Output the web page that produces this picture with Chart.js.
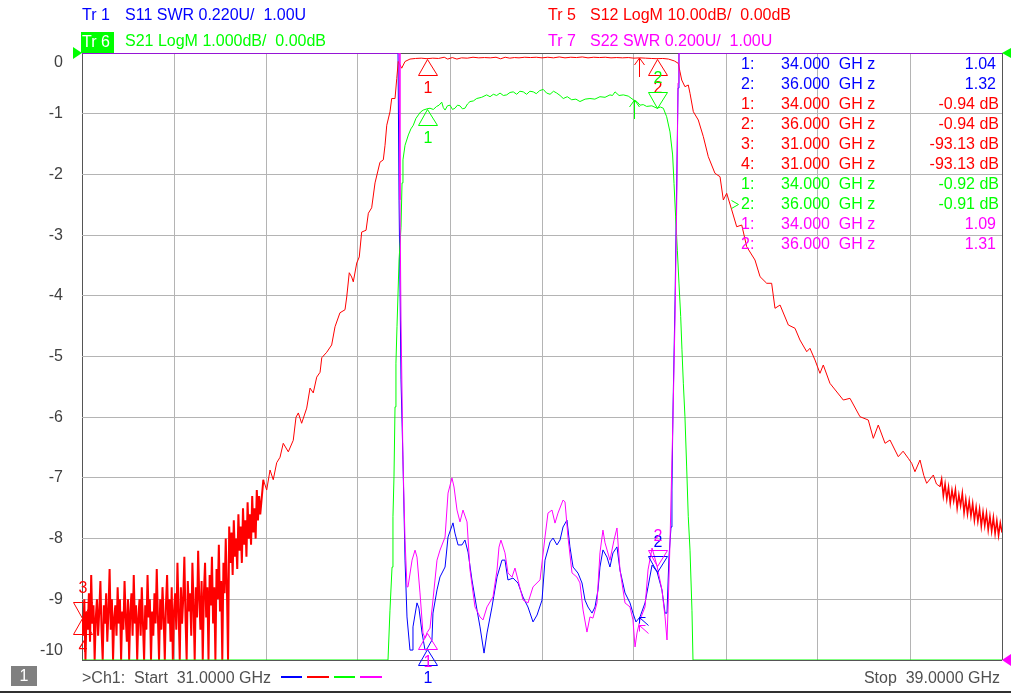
<!DOCTYPE html>
<html><head><meta charset="utf-8">
<script src="https://cdn.jsdelivr.net/npm/chart.js@4.4.1/dist/chart.umd.min.js"></script>
<style>
html,body{margin:0;padding:0;background:#fff;overflow:hidden}
#wrap{position:relative;width:1011px;height:693px;font-family:"Liberation Sans",Arial,Helvetica,sans-serif;font-size:16px;background:#fff}
#c{position:absolute;left:0;top:0}
.t{position:absolute;white-space:pre;line-height:20px;height:20px}
.r{text-align:right}
.seg{position:absolute;height:2px}
</style></head><body>
<div id="wrap">
<canvas id="c" width="1011" height="693" style="width:1011px;height:693px"></canvas>
<div class="t" style="left:82px;top:5px;color:#0000ff">Tr 1</div>
<div class="t" style="left:125px;top:5px;color:#0000ff">S11 SWR 0.220U/  1.00U</div>
<div style="position:absolute;left:81px;top:32px;width:33px;height:21px;background:#00ff00"></div>
<div class="t" style="left:82px;top:32px;color:#ffffff">Tr 6</div>
<div class="t" style="left:125px;top:31px;color:#00ff00">S21 LogM 1.000dB/  0.00dB</div>
<div class="t" style="left:548px;top:5px;color:#ff0000">Tr 5</div>
<div class="t" style="left:590px;top:5px;color:#ff0000">S12 LogM 10.00dB/  0.00dB</div>
<div class="t" style="left:548px;top:31px;color:#ff00ff">Tr 7</div>
<div class="t" style="left:590px;top:31px;color:#ff00ff">S22 SWR 0.200U/  1.00U</div>
<div id="table"></div>
<div style="position:absolute;left:11px;top:666px;width:26px;height:20px;background:#808080"></div>
<div class="t" style="left:11px;top:666px;width:26px;text-align:center;color:#ffffff">1</div>
<div class="t" style="left:82px;top:668px;color:#505050">&gt;Ch1:  Start  31.0000 GHz</div>
<div class="seg" style="left:281px;top:676px;width:21px;background:#0000ff"></div>
<div class="seg" style="left:307px;top:676px;width:22px;background:#ff0000"></div>
<div class="seg" style="left:334px;top:676px;width:21px;background:#00ff00"></div>
<div class="seg" style="left:360px;top:676px;width:22px;background:#ff00ff"></div>
<div class="t r" style="right:11px;top:668px;color:#505050">Stop  39.0000 GHz</div>
<div style="position:absolute;left:0;top:691px;width:1011px;height:2px;background:#303030"></div>
</div>
<script>
// ---------------- DATA ----------------
// Sweep: 31 - 39 GHz
const freqStart = 31.0;
const freqStop = 39.0;

// Tr1 S11 SWR trace [GHz, SWR]
const s11Trace = [[31.0,3.2],[33.748,3.2],[33.757,2.667],[33.774,2.015],[33.791,1.725],[33.809,1.362],[33.826,1.156],[33.852,1.036],[33.870,1.036],[33.878,1.120],[33.913,1.207],[33.930,1.188],[33.957,1.098],[33.983,1.036],[34.000,1.040],[34.009,1.047],[34.043,1.072],[34.052,1.170],[34.087,1.254],[34.113,1.301],[34.157,1.337],[34.183,1.446],[34.226,1.497],[34.243,1.460],[34.270,1.417],[34.304,1.417],[34.330,1.435],[34.357,1.391],[34.391,1.290],[34.435,1.181],[34.461,1.120],[34.496,1.025],[34.522,1.098],[34.565,1.192],[34.609,1.301],[34.652,1.362],[34.678,1.362],[34.704,1.290],[34.748,1.297],[34.791,1.279],[34.835,1.228],[34.878,1.192],[34.922,1.138],[34.957,1.163],[35.000,1.217],[35.026,1.362],[35.070,1.428],[35.096,1.442],[35.130,1.417],[35.157,1.435],[35.183,1.482],[35.217,1.507],[35.243,1.410],[35.270,1.337],[35.313,1.315],[35.348,1.279],[35.374,1.217],[35.400,1.192],[35.435,1.170],[35.461,1.192],[35.487,1.254],[35.504,1.337],[35.530,1.399],[35.565,1.373],[35.591,1.337],[35.617,1.388],[35.652,1.410],[35.678,1.326],[35.722,1.243],[35.765,1.207],[35.791,1.170],[35.817,1.138],[35.852,1.156],[35.896,1.207],[35.922,1.265],[35.957,1.344],[36.000,1.320],[36.043,1.254],[36.070,1.170],[36.087,1.170],[36.104,1.373],[36.122,1.482],[36.130,1.616],[36.139,1.906],[36.157,2.305],[36.183,3.073],[36.191,3.2],[39.0,3.2]];

// Tr5 S12 LogM trace [GHz, dB]
const s12Trace = [[31.00,-93.1],[31.01,-96],[31.02,-90],[31.03,-100],[31.04,-92],[31.05,-95],[31.06,-89],[31.07,-97],[31.08,-86],[31.09,-94],[31.10,-91],[31.11,-100],[31.12,-93],[31.13,-90],[31.14,-96],[31.15,-92],[31.16,-87],[31.17,-95],[31.18,-100],[31.19,-91],[31.20,-94],[31.21,-89],[31.22,-97],[31.23,-92],[31.24,-85],[31.25,-95],[31.26,-90],[31.27,-100],[31.28,-93],[31.29,-91],[31.30,-96],[31.31,-88],[31.32,-94],[31.33,-90],[31.34,-100],[31.35,-92],[31.36,-95],[31.37,-87],[31.38,-93],[31.39,-97],[31.40,-90],[31.41,-100],[31.42,-92],[31.43,-89],[31.44,-96],[31.45,-86],[31.46,-94],[31.47,-91],[31.48,-100],[31.49,-93],[31.50,-90],[31.51,-96],[31.52,-88],[31.53,-94],[31.54,-100],[31.55,-91],[31.56,-95],[31.57,-86],[31.58,-93],[31.59,-90],[31.60,-100],[31.61,-92],[31.62,-96],[31.63,-89],[31.64,-94],[31.65,-85],[31.66,-93],[31.67,-100],[31.68,-90],[31.69,-95],[31.70,-88],[31.71,-93],[31.72,-100],[31.73,-91],[31.74,-86],[31.75,-94],[31.76,-90],[31.77,-97],[31.78,-88],[31.79,-100],[31.80,-92],
[31.81,-89],[31.82,-95],[31.83,-84],[31.84,-92],[31.85,-100],[31.86,-88],[31.87,-94],[31.88,-90],[31.89,-83],[31.90,-93],[31.91,-100],[31.92,-87],[31.93,-92],[31.94,-89],[31.95,-96],[31.96,-84],[31.97,-91],[31.98,-100],[31.99,-88],[32.00,-93],[32.01,-82],[32.02,-90],[32.03,-95],[32.04,-87],[32.05,-100],[32.06,-89],[32.07,-84],[32.08,-93],[32.09,-88],[32.10,-100],[32.11,-86],[32.12,-91],[32.13,-83],[32.14,-94],[32.15,-88],[32.16,-100],[32.17,-85],[32.18,-90],[32.19,-81],[32.20,-92],[32.21,-87],[32.22,-100],[32.23,-84],[32.24,-89],[32.25,-80],[32.26,-88],[32.27,-100],[32.28,-78],
[32.29,-84],[32.30,-79],[32.31,-86],[32.32,-77],[32.33,-83],[32.34,-80],[32.35,-85],[32.36,-76],[32.37,-82],[32.38,-78],[32.39,-84],[32.40,-75],[32.41,-81],[32.42,-77],[32.43,-83],[32.44,-74],[32.45,-80],[32.46,-76],[32.47,-81],[32.48,-73],[32.49,-79],[32.50,-75],[32.51,-80],[32.52,-72],[32.53,-77],[32.54,-73],[32.55,-76],
[32.577,-70.3],[32.606,-72.0],[32.635,-68.7],[32.663,-70.3],[32.693,-67.5],[32.722,-66.6],[32.750,-64.3],[32.794,-65.7],[32.837,-63.8],[32.861,-60.0],[32.881,-59.3],[32.910,-61.0],[32.954,-58.5],[32.983,-55.2],[33.011,-56.0],[33.041,-53.4],[33.070,-52.6],[33.085,-50.2],[33.128,-49.3],[33.171,-48.1],[33.200,-45.1],[33.243,-42.8],[33.287,-42.3],[33.302,-40.2],[33.324,-36.2],[33.345,-36.9],[33.359,-37.7],[33.389,-34.6],[33.411,-33.6],[33.432,-29.5],[33.470,-29.2],[33.490,-26.4],[33.519,-25.5],[33.548,-21.4],[33.591,-18.0],[33.620,-17.6],[33.635,-15.2],[33.650,-11.9],[33.678,-9.7],[33.693,-7.5],[33.722,-7.5],[33.737,-4.2],[33.750,-1.4],[33.780,-2.5],[33.809,-1.4],[33.852,-1.0],
[33.90,-0.90],[33.95,-0.85],[34.00,-0.94],[34.05,-0.85],[34.10,-0.90],[34.15,-0.70],[34.18,-1.00],[34.22,-0.75],[34.26,-1.00],[34.30,-0.80],[34.35,-0.85],[34.40,-0.70],[34.45,-0.80],[34.50,-0.75],[34.55,-0.80],[34.60,-0.70],[34.64,-0.95],[34.68,-0.70],[34.72,-0.85],[34.76,-0.75],[34.80,-0.80],[34.85,-0.70],[34.90,-0.75],[34.95,-0.70],[35.00,-0.80],[35.05,-0.70],[35.10,-0.80],[35.15,-0.65],[35.20,-0.80],[35.25,-0.70],[35.30,-0.75],[35.35,-0.65],[35.40,-0.80],[35.45,-0.70],[35.50,-0.75],[35.55,-0.70],[35.60,-0.80],[35.65,-0.75],[35.70,-0.80],[35.75,-0.75],[35.80,-0.85],[35.85,-0.80],[35.90,-0.85],[35.95,-0.90],[36.00,-0.94],[36.05,-0.90],[36.10,-1.00],
[36.150,-1.3],[36.185,-1.7],[36.200,-3.1],[36.215,-4.45],[36.243,-5.55],[36.272,-5.27],[36.287,-6.64],[36.316,-9.67],[36.359,-11.04],[36.403,-13.79],[36.446,-17.08],[36.504,-19.82],[36.548,-20.38],[36.577,-24.22],[36.606,-23.11],[36.650,-25.86],[36.693,-28.62],[36.737,-28.34],[36.780,-31.91],[36.852,-34.10],[36.896,-36.85],[36.954,-37.94],[36.997,-37.94],[37.026,-42.06],[37.070,-41.52],[37.142,-44.81],[37.200,-45.35],[37.243,-47.28],[37.302,-49.21],[37.330,-48.65],[37.374,-50.58],[37.417,-52.77],[37.446,-51.40],[37.504,-54.42],[37.620,-57.17],[37.678,-56.89],[37.765,-59.92],[37.837,-60.46],[37.881,-63.48],[37.924,-61.29],[37.983,-64.30],[38.026,-63.76],[38.098,-66.51],[38.140,-65.6],[38.185,-66.77],[38.215,-67.6],[38.243,-68.98],[38.287,-67.05],[38.320,-69.6],[38.345,-70.89],[38.403,-69.52],[38.430,-71.0],[38.461,-71.45],
[38.475,-70.2],[38.490,-73.0],[38.505,-71.0],[38.520,-73.5],[38.535,-71.5],[38.550,-74.2],[38.565,-72.0],[38.580,-73.8],[38.595,-71.9],[38.610,-75.0],[38.625,-72.8],[38.640,-74.6],[38.655,-72.5],[38.670,-75.8],[38.685,-73.5],[38.700,-76.0],[38.715,-73.8],[38.730,-76.3],[38.745,-74.2],[38.760,-77.0],[38.775,-74.8],[38.790,-77.2],[38.805,-75.1],[38.820,-78.0],[38.835,-75.6],[38.850,-77.9],[38.865,-75.8],[38.880,-78.6],[38.895,-76.3],[38.910,-78.8],[38.925,-76.5],[38.940,-79.2],[38.955,-77.0],[38.970,-79.5],[38.985,-77.4],[39.000,-79.0]];

// Tr6 S21 LogM trace [GHz, dB]
const s21Trace = [[31.0,-10],[33.661,-10],[33.678,-9.18],[33.696,-8.47],[33.704,-7.64],[33.713,-6.98],[33.722,-5.83],[33.730,-5.11],[33.739,-4.51],[33.757,-3.41],[33.774,-2.87],[33.783,-2.14],[33.791,-1.76],[33.809,-1.52],[33.838,-1.35],[33.860,-1.25],[33.881,-1.19],[33.903,-1.08],[33.925,-1.02],[33.945,-0.97],[33.968,-0.94],[34.000,-0.92],[34.026,-0.91],[34.055,-0.93],[34.084,-0.88],[34.105,-0.86],[34.128,-0.81],[34.142,-0.90],[34.157,-0.94],[34.178,-0.87],[34.200,-0.86],[34.222,-0.93],[34.243,-0.91],[34.265,-0.86],[34.287,-0.87],[34.308,-0.92],[34.330,-0.91],[34.352,-0.84],[34.374,-0.80],[34.403,-0.79],[34.432,-0.75],[34.475,-0.73],[34.519,-0.69],[34.548,-0.72],[34.577,-0.68],[34.606,-0.70],[34.635,-0.66],[34.664,-0.70],[34.693,-0.69],[34.722,-0.65],[34.750,-0.64],[34.780,-0.68],[34.808,-0.63],[34.837,-0.64],[34.866,-0.68],[34.895,-0.63],[34.924,-0.64],[34.950,-0.67],[34.980,-0.62],[35.011,-0.60],[35.040,-0.66],[35.070,-0.68],[35.100,-0.63],[35.128,-0.66],[35.157,-0.70],[35.185,-0.75],[35.220,-0.72],[35.258,-0.77],[35.295,-0.76],[35.330,-0.80],[35.375,-0.76],[35.417,-0.75],[35.460,-0.76],[35.504,-0.72],[35.548,-0.73],[35.591,-0.69],[35.613,-0.70],[35.635,-0.64],[35.670,-0.70],[35.707,-0.69],[35.750,-0.71],[35.794,-0.77],[35.825,-0.80],[35.852,-0.86],[35.880,-0.85],[35.910,-0.88],[35.955,-0.87],[36.000,-0.91],[36.030,-0.89],[36.055,-0.91],[36.084,-1.05],[36.113,-1.30],[36.136,-1.68],[36.148,-2.15],[36.162,-2.70],[36.177,-3.25],[36.191,-3.79],[36.206,-4.34],[36.217,-4.89],[36.229,-5.44],[36.243,-5.99],[36.258,-6.82],[36.272,-7.64],[36.287,-8.19],[36.304,-9.18],[36.313,-10],[39.0,-10]];

// Tr7 S22 SWR trace [GHz, SWR]
const s22Trace = [[31.0,3.0],[33.757,3.0],[33.765,2.516],[33.774,2.120],[33.791,1.659],[33.809,1.395],[33.826,1.241],[33.835,1.241],[33.870,1.329],[33.896,1.362],[33.913,1.339],[33.939,1.221],[33.965,1.089],[33.983,1.072],[34.000,1.090],[34.026,1.105],[34.052,1.198],[34.087,1.329],[34.113,1.362],[34.157,1.405],[34.183,1.550],[34.217,1.600],[34.235,1.570],[34.261,1.494],[34.287,1.455],[34.313,1.494],[34.348,1.455],[34.374,1.297],[34.417,1.175],[34.461,1.142],[34.487,1.132],[34.522,1.175],[34.574,1.208],[34.609,1.297],[34.626,1.372],[34.643,1.395],[34.678,1.353],[34.704,1.287],[34.739,1.273],[34.765,1.303],[34.791,1.264],[34.835,1.198],[34.878,1.188],[34.922,1.241],[34.983,1.264],[35.026,1.405],[35.052,1.484],[35.087,1.494],[35.113,1.451],[35.139,1.484],[35.183,1.527],[35.200,1.521],[35.226,1.405],[35.261,1.287],[35.304,1.273],[35.330,1.254],[35.357,1.165],[35.391,1.092],[35.417,1.142],[35.443,1.138],[35.478,1.188],[35.504,1.353],[35.530,1.428],[35.548,1.386],[35.591,1.329],[35.626,1.395],[35.652,1.435],[35.678,1.297],[35.722,1.188],[35.765,1.175],[35.791,1.132],[35.809,1.043],[35.826,1.089],[35.852,1.132],[35.896,1.175],[35.922,1.297],[35.957,1.369],[36.000,1.310],[36.043,1.231],[36.070,1.142],[36.087,1.066],[36.096,1.165],[36.113,1.386],[36.130,1.659],[36.139,1.801],[36.157,2.130],[36.174,2.572],[36.183,2.901],[36.191,3.0],[39.0,3.0]];

// Marker readouts
const markerFreqs = [34.0, 36.0];
const s11MarkerSwr = [1.04, 1.32];
const s12MarkerFreqs = [34.0, 36.0, 31.0, 31.0];
const s12MarkerDb = [-0.94, -0.94, -93.13, -93.13];
const s21MarkerDb = [-0.92, -0.91];
const s22MarkerSwr = [1.09, 1.31];

// search arrows [GHz, value]
const s12Arrow = [35.843, -0.85];
const s21Arrow = [35.800, -0.77];
const s11Arrow = [35.840, 1.156];
const s22Arrow = [35.840, 1.115];

// S21 (active trace) axis ticks
const yTicks = [0, -1, -2, -3, -4, -5, -6, -7, -8, -9, -10];

// ---------------- STYLE ----------------
const FONT = '"Liberation Sans", Arial, Helvetica, sans-serif';
const BLUE = '#0000ff', RED = '#ff0000', GREEN = '#00ff00', MAG = '#ff00ff';
const GRID = '#b4b4b4', FRAME = '#555555';

// ---------------- TABLE ----------------
(function(){
  const rows = [];
  s11MarkerSwr.forEach((v,i)=>rows.push({c:BLUE,n:i+1,f:markerFreqs[i],t:v.toFixed(2),db:false}));
  s12MarkerDb.forEach((v,i)=>rows.push({c:RED,n:i+1,f:s12MarkerFreqs[i],t:v.toFixed(2)+' dB',db:true}));
  s21MarkerDb.forEach((v,i)=>rows.push({c:GREEN,n:i+1,f:markerFreqs[i],t:v.toFixed(2)+' dB',db:true}));
  s22MarkerSwr.forEach((v,i)=>rows.push({c:MAG,n:i+1,f:markerFreqs[i],t:v.toFixed(2),db:false}));
  const tb = document.getElementById('table');
  let h = '';
  rows.forEach((r,i)=>{
    const top = 54 + 20*i;
    h += '<div class="t" style="left:741px;top:'+top+'px;color:'+r.c+'">'+r.n+':</div>';
    h += '<div class="t" style="left:781px;top:'+top+'px;color:'+r.c+'">'+r.f.toFixed(3)+'  GH z</div>';
    h += '<div class="t r" style="right:'+(r.db?12:15)+'px;top:'+top+'px;color:'+r.c+'">'+r.t+'</div>';
  });
  tb.innerHTML = h;
})();

// ---------------- CHART ----------------
const toXY = arr => arr.map(p => ({x:p[0], y:p[1]}));
const isEdge = (v, a, b) => Math.abs(v-a) < 1e-6 || Math.abs(v-b) < 1e-6;

const vnaPlugin = {
  id: 'vnaDecor',
  afterDatasetsDraw(chart){
    const {ctx, chartArea:a, scales:s} = chart;
    const X = f => s.x.getPixelForValue(f);
    ctx.save();
    ctx.lineWidth = 1;
    ctx.font = '16px ' + FONT;
    ctx.textAlign = 'center';
    ctx.textBaseline = 'middle';
    function tri(x, y, up, color, label){
      x = Math.round(x); y = Math.round(y);
      const b = up ? y + 16 : y - 16;
      ctx.strokeStyle = color;
      ctx.beginPath();
      ctx.moveTo(x + 0.5, y + 0.5);
      ctx.lineTo(x - 9 + 0.5, b + 0.5);
      ctx.lineTo(x + 10 + 0.5, b + 0.5);
      ctx.closePath();
      ctx.stroke();
      ctx.fillStyle = color;
      ctx.fillText(label, x + 1, up ? y + 30 : y - 29);
    }
    function arrowUp(x, y, color){
      x = Math.round(x) + 0.5; y = Math.round(y);
      ctx.strokeStyle = color;
      ctx.beginPath();
      ctx.moveTo(x, y); ctx.lineTo(x, y + 19);
      ctx.moveTo(x - 5, y + 7); ctx.lineTo(x, y); ctx.lineTo(x + 5, y + 7);
      ctx.stroke();
    }
    function arrowNW(x, y, color){
      x = Math.round(x) + 0.5; y = Math.round(y) + 0.5;
      ctx.strokeStyle = color;
      ctx.beginPath();
      ctx.moveTo(x, y); ctx.lineTo(x + 9, y + 8);
      ctx.moveTo(x, y + 6); ctx.lineTo(x, y); ctx.lineTo(x + 6, y);
      ctx.stroke();
    }
    // search arrows
    arrowNW(X(s11Arrow[0]), s.yS11.getPixelForValue(s11Arrow[1]), BLUE);
    arrowUp(X(s12Arrow[0]), s.yS12.getPixelForValue(s12Arrow[1]), RED);
    arrowUp(X(s21Arrow[0]), s.y.getPixelForValue(s21Arrow[1]), GREEN);
    arrowNW(X(s22Arrow[0]), s.yS22.getPixelForValue(s22Arrow[1]), MAG);
    // markers
    const s11Up = [true, false], s12Up = [true, true, false, true], s21Up = [true, false], s22Up = [true, false];
    s11MarkerSwr.forEach((v,i)=>tri(X(markerFreqs[i]), s.yS11.getPixelForValue(v), s11Up[i], BLUE, String(i+1)));
    s12MarkerDb.forEach((v,i)=>tri(X(s12MarkerFreqs[i]), s.yS12.getPixelForValue(v), s12Up[i], RED, String(i+1)));
    s21MarkerDb.forEach((v,i)=>tri(X(markerFreqs[i]), s.y.getPixelForValue(v), s21Up[i], GREEN, String(i+1)));
    s22MarkerSwr.forEach((v,i)=>tri(X(markerFreqs[i]), s.yS22.getPixelForValue(v), s22Up[i], MAG, String(i+1)));
    // reference position indicators
    const yRef = s.y.getPixelForValue(0);
    ctx.fillStyle = GREEN;
    ctx.beginPath(); ctx.moveTo(a.left - 9, yRef - 6); ctx.lineTo(a.left, yRef); ctx.lineTo(a.left - 9, yRef + 6); ctx.closePath(); ctx.fill();
    ctx.beginPath(); ctx.moveTo(a.right + 9, yRef - 5); ctx.lineTo(a.right, yRef); ctx.lineTo(a.right + 9, yRef + 5); ctx.closePath(); ctx.fill();
    const yRef22 = s.yS22.getPixelForValue(1.0);
    ctx.fillStyle = MAG;
    ctx.beginPath(); ctx.moveTo(a.right + 9, yRef22 - 6); ctx.lineTo(a.right, yRef22); ctx.lineTo(a.right + 9, yRef22 + 6); ctx.closePath(); ctx.fill();
    // active marker indicator in table (S21 marker 2 row)
    ctx.strokeStyle = GREEN;
    ctx.beginPath(); ctx.moveTo(731.5, 200.5); ctx.lineTo(738.5, 204.5); ctx.lineTo(731.5, 208.5); ctx.stroke();
    ctx.restore();
  }
};

// noisy sweep regions of S12 are drawn as the analyzer shows them (thicker, dense)
const noiseWidth = c => (c.p0.parsed.x < 32.56 ? 2 : (c.p0.parsed.x > 38.46 ? 1.5 : 1));

new Chart(document.getElementById('c'), {
  type: 'line',
  data: {
    datasets: [
      {label:'S11', data: toXY(s11Trace), borderColor: BLUE, yAxisID:'yS11', order:4},
      {label:'S12', data: toXY(s12Trace), borderColor: RED, yAxisID:'yS12', order:3, segment: {borderWidth: noiseWidth}},
      {label:'S21', data: toXY(s21Trace), borderColor: GREEN, yAxisID:'y', order:2},
      {label:'S22', data: toXY(s22Trace), borderColor: MAG, yAxisID:'yS22', order:1}
    ]
  },
  options: {
    responsive: false,
    animation: false,
    events: [],
    layout: {padding: {left: 0, top: 53, right: 9, bottom: 0}},
    elements: {line: {borderWidth: 1, tension: 0, fill: false}, point: {radius: 0, hitRadius: 0}},
    plugins: {legend: {display: false}, tooltip: {enabled: false}},
    scales: {
      x: {
        type: 'linear', min: freqStart, max: freqStop,
        ticks: {display: false, stepSize: 0.8},
        grid: {drawTicks: false, lineWidth: 1, color: c => (c.tick && isEdge(c.tick.value, freqStart, freqStop)) ? FRAME : GRID},
        border: {display: false},
        afterFit: sc => { sc.height = 33; sc.paddingLeft = 0; sc.paddingRight = 0; }
      },
      y: {
        type: 'linear', position: 'left', min: -10, max: 0,
        afterBuildTicks: sc => { sc.ticks = yTicks.map(v => ({value: v})); },
        ticks: {
          padding: 19, color: '#404040', font: {family: FONT, size: 16},
          callback: v => v === 0 ? ['', '0'] : (v === -10 ? ['-10', ''] : String(v))
        },
        grid: {drawTicks: false, lineWidth: 1, color: c => (c.tick && isEdge(c.tick.value, 0, -10)) ? FRAME : GRID},
        border: {display: false},
        afterFit: sc => { sc.width = 82; sc.paddingTop = 0; sc.paddingBottom = 0; }
      },
      yS12: {type: 'linear', display: false, min: -100, max: 0},
      yS11: {type: 'linear', display: false, min: 1.0, max: 3.2},
      yS22: {type: 'linear', display: false, min: 1.0, max: 3.0}
    }
  },
  plugins: [vnaPlugin]
});
</script>
</body></html>
